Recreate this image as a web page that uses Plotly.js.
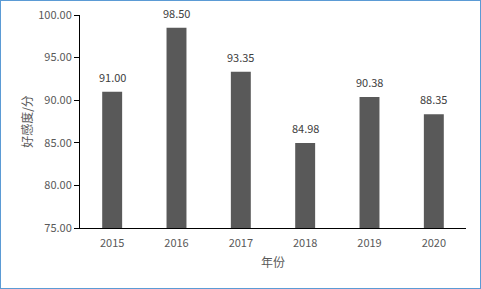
<!DOCTYPE html>
<html>
<head>
<meta charset="utf-8">
<script src="https://cdn.plot.ly/plotly-3.0.1.min.js"></script>
<style>
html,body{margin:0;padding:0;background:#fff;}
#wrap{position:relative;width:481px;height:289px;}
#chart{position:absolute;left:0;top:0;width:481px;height:289px;}
#frame{position:absolute;left:0;top:0;width:481px;height:289px;box-sizing:border-box;border:1px solid #5B9BD5;pointer-events:none;}
</style>
</head>
<body>
<div id="wrap"><div id="chart"></div><div id="frame"></div></div>
<script>
const years = ['2015','2016','2017','2018','2019','2020'];
const scores = [91.00, 98.50, 93.35, 84.98, 90.38, 88.35];
const yTitle = '好感度/分';
const xTitle = '年份';

const font = '"Noto Sans CJK SC", "Noto Sans", sans-serif';
const annotations = years.map((y, i) => ({
  x: i, y: scores[i], xref: 'x', yref: 'y',
  text: scores[i].toFixed(2), showarrow: false,
  yanchor: 'middle', yshift: 15,
  font: {family: font, size: 11, color: '#404040'}
}));

Plotly.newPlot('chart', [{
  type: 'bar', x: years, y: scores,
  marker: {color: '#595959'},
  width: 0.31, hoverinfo: 'none'
}], {
  width: 481, height: 289,
  margin: {l: 80, r: 15, t: 15, b: 61},
  paper_bgcolor: '#fff', plot_bgcolor: '#fff',
  showlegend: false,
  font: {family: font, size: 11, color: '#595959'},
  xaxis: {
    type: 'category', range: [-0.5, years.length - 0.5],
    showline: true, linecolor: '#000', linewidth: 1,
    ticks: '', showgrid: false, zeroline: false,
    ticklabelstandoff: 5,
    tickfont: {family: font, size: 11, color: '#595959'},
    title: {text: xTitle, font: {family: font, size: 12, color: '#595959'}, standoff: 9}
  },
  yaxis: {
    range: [75, 100], dtick: 5, tick0: 75, tickformat: '.2f',
    showline: true, linecolor: '#000', linewidth: 1,
    ticks: 'outside', ticklen: 5, tickcolor: '#000', tickwidth: 1,
    showgrid: false, zeroline: false,
    tickfont: {family: font, size: 11, color: '#595959'},
    title: {text: yTitle, font: {family: font, size: 12, color: '#595959'}, standoff: 3}
  },
  annotations: annotations
}, {displayModeBar: false, staticPlot: true});
</script>
</body>
</html>
